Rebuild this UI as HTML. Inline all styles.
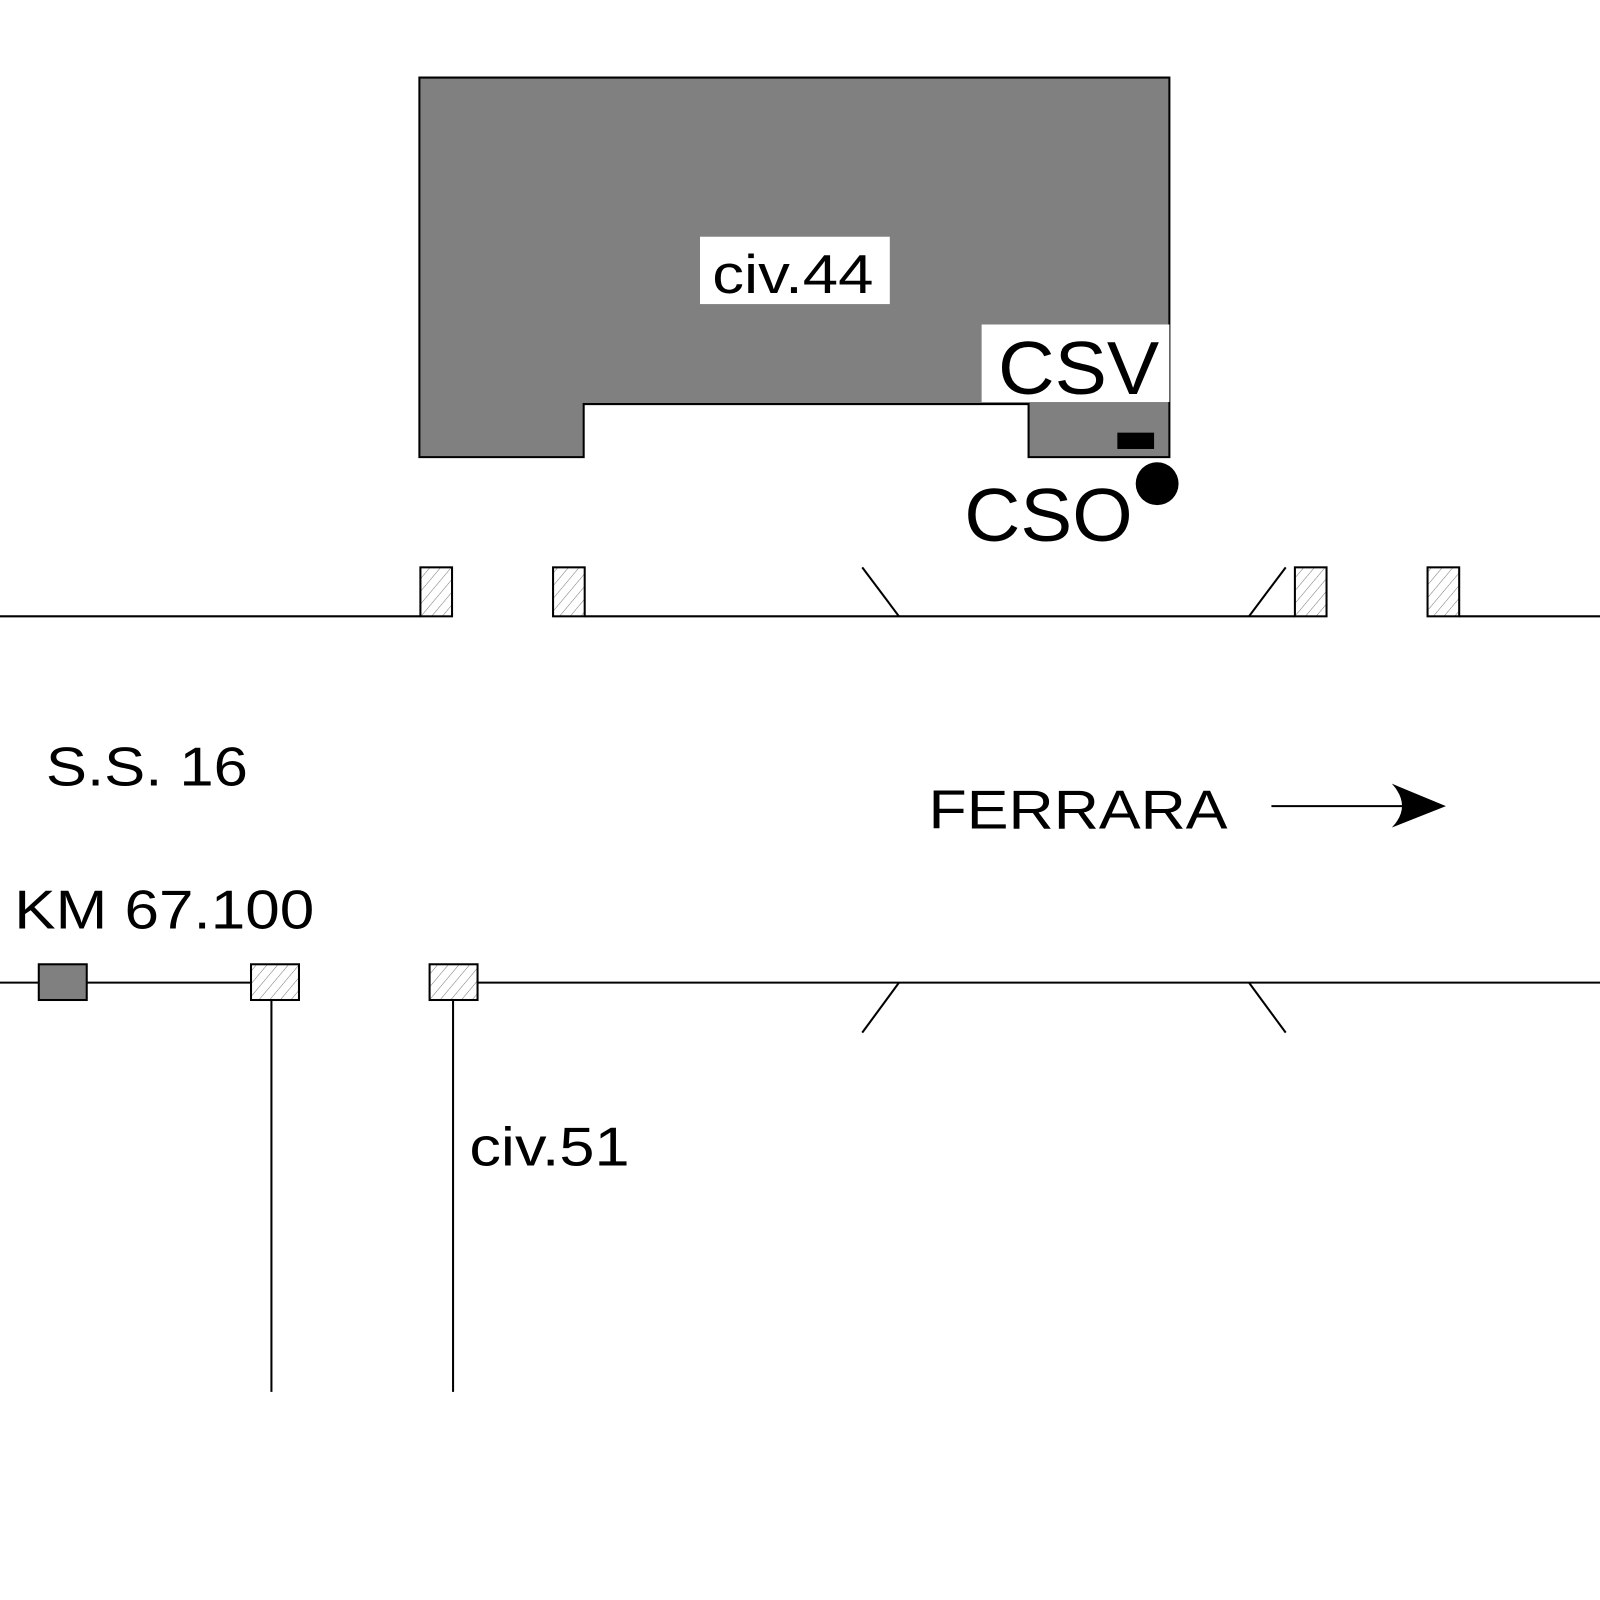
<!DOCTYPE html>
<html><head><style>html,body{margin:0;padding:0;background:#fff}svg{display:block}</style></head>
<body>
<svg width="1600" height="1600" viewBox="0 0 1568 1568" xmlns="http://www.w3.org/2000/svg">
<defs>
<pattern id="h" width="8" height="8" patternUnits="userSpaceOnUse" patternTransform="rotate(40)">
<rect width="8" height="8" fill="#fff"/><line x1="0" y1="0" x2="0" y2="8" stroke="#777" stroke-width="1"/>
</pattern>
</defs>
<g font-family="Liberation Sans, Arial, sans-serif" fill="#000">
<polygon points="411,76 1146,76 1146,448 1008,448 1008,396 572,396 572,448 411,448" fill="#808080" stroke="#000" stroke-width="2"/>
<rect x="686" y="232" width="186" height="66" fill="#fff"/>
<text x="698" y="287" font-size="54" textLength="158" lengthAdjust="spacingAndGlyphs">civ.44</text>
<rect x="962" y="318" width="184" height="76" fill="#fff"/>
<text x="978" y="386" font-size="74" textLength="158" lengthAdjust="spacingAndGlyphs">CSV</text>
<rect x="1095" y="424" width="36" height="16" fill="#000"/>
<circle cx="1134" cy="474" r="21" fill="#000"/>
<text x="945" y="530" font-size="74" textLength="165" lengthAdjust="spacingAndGlyphs">CSO</text>

<g stroke="#000" stroke-width="2" fill="none">
<line x1="0" y1="604" x2="412" y2="604"/>
<line x1="573" y1="604" x2="1269" y2="604"/>
<line x1="1430" y1="604" x2="1568" y2="604"/>
<line x1="845" y1="556" x2="881" y2="604"/>
<line x1="1224" y1="604" x2="1260" y2="556"/>
<line x1="0" y1="963" x2="293" y2="963"/>
<line x1="468" y1="963" x2="1568" y2="963"/>
<line x1="881" y1="963" x2="845" y2="1012"/>
<line x1="1224" y1="963" x2="1260" y2="1012"/>
<line x1="266" y1="980" x2="266" y2="1364"/>
<line x1="444" y1="980" x2="444" y2="1364"/>
<line x1="1246" y1="790" x2="1390" y2="790"/>
</g>
<g stroke="#000" stroke-width="2" fill="url(#h)">
<rect x="412" y="556" width="31" height="48"/>
<rect x="542" y="556" width="31" height="48"/>
<rect x="1269" y="556" width="31" height="48"/>
<rect x="1399" y="556" width="31" height="48"/>
<rect x="246" y="945" width="47" height="35"/>
<rect x="421" y="945" width="47" height="35"/>
</g>
<rect x="38" y="945" width="47" height="35" fill="#808080" stroke="#000" stroke-width="2"/>
<path d="M1364,768 L1417,790 L1364,811 Q1384,790 1364,768 Z" fill="#000"/>

<text x="45" y="770" font-size="54" textLength="198" lengthAdjust="spacingAndGlyphs">S.S. 16</text>
<text x="910" y="812" font-size="54" textLength="293" lengthAdjust="spacingAndGlyphs">FERRARA</text>
<text x="14" y="910" font-size="54" textLength="294" lengthAdjust="spacingAndGlyphs">KM 67.100</text>
<text x="460" y="1142" font-size="54" textLength="157" lengthAdjust="spacingAndGlyphs">civ.51</text>
</g>
</svg>
</body></html>
